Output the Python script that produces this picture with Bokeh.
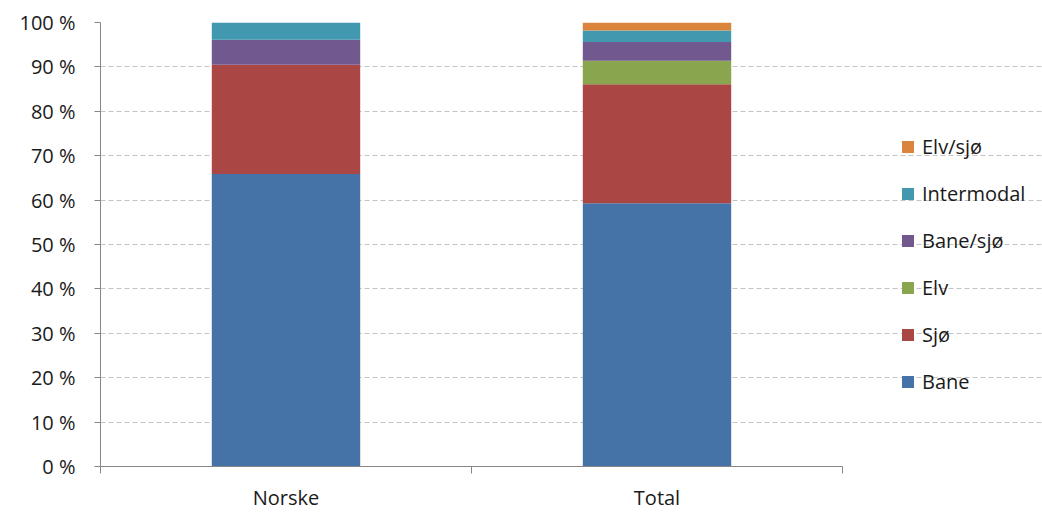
from bokeh.plotting import figure
from bokeh.models import ColumnDataSource, FixedTicker, Legend, LegendItem, Range1d
from bokeh.embed import file_html
from bokeh.resources import INLINE

categories = ["Norske", "Total"]
series_names = ["Bane", "Sjø", "Elv", "Bane/sjø", "Intermodal", "Elv/sjø"]
bane = [65.9, 59.3]
sjo = [24.6, 26.8]
elv = [0.0, 5.3]
bane_sjo = [5.6, 4.2]
intermodal = [3.9, 2.6]
elv_sjo = [0.0, 1.8]
colors = ["#4572A7", "#AA4643", "#89A54E", "#71588F", "#4198AF", "#DB843D"]
y_ticks = [0, 10, 20, 30, 40, 50, 60, 70, 80, 90, 100]
y_tick_labels = ["0 %", "10 %", "20 %", "30 %", "40 %", "50 %", "60 %", "70 %", "80 %", "90 %", "100 %"]

FONT = "Open Sans"
TEXT = "#1a1a1a"
FS = "20px"

# layout: plot area 742 px wide, frame extended to the right edge to host the legend
PLOT_W = 742
FRAME_W = 942
n = len(categories)

keys = ["s%d" % i for i in range(len(series_names))]
data = {"x": [i + 0.5 for i in range(n)]}
for k, vals in zip(keys, [bane, sjo, elv, bane_sjo, intermodal, elv_sjo]):
    data[k] = vals
source = ColumnDataSource(data)

p = figure(width=1042, height=513, output_backend="svg", toolbar_location=None,
           x_range=Range1d(0, n * FRAME_W / PLOT_W), y_range=Range1d(0, 100),
           min_border_left=100, min_border_right=0, min_border_top=22, min_border_bottom=47)
p.outline_line_color = None
p.background_fill_color = "white"
p.border_fill_color = "white"

renderers = p.vbar_stack(keys, x="x", width=0.4, source=source, color=colors, line_color=None)

p.xgrid.visible = False
p.ygrid.grid_line_color = "#C4C4C4"
p.ygrid.grid_line_dash = "5 3"
p.ygrid.grid_line_width = 1
p.ygrid.ticker = FixedTicker(ticks=y_ticks)
p.ygrid.bounds = (0, n)

p.yaxis.ticker = FixedTicker(ticks=y_ticks)
p.yaxis.major_label_overrides = {t: l for t, l in zip(y_ticks, y_tick_labels)}
p.yaxis.axis_line_color = "#868686"
p.yaxis.major_tick_line_color = "#868686"
p.yaxis.major_tick_out = 6
p.yaxis.major_tick_in = 0
p.yaxis.minor_tick_line_color = None
p.yaxis.major_label_standoff = 19
p.yaxis.major_label_text_font = FONT
p.yaxis.major_label_text_font_size = FS
p.yaxis.major_label_text_color = TEXT

p.xaxis.ticker = FixedTicker(ticks=[i + 0.5 for i in range(n)],
                             minor_ticks=list(range(n + 1)))
p.xaxis.bounds = (0, n)
p.xaxis.major_label_overrides = {i + 0.5: c for i, c in enumerate(categories)}
p.xaxis.axis_line_color = "#868686"
p.xaxis.major_tick_line_color = None
p.xaxis.major_tick_out = 0
p.xaxis.major_tick_in = 0
p.xaxis.minor_tick_line_color = "#868686"
p.xaxis.minor_tick_out = 7
p.xaxis.minor_tick_in = 0
p.xaxis.major_label_standoff = 10
p.xaxis.major_label_text_font = FONT
p.xaxis.major_label_text_font_size = FS
p.xaxis.major_label_text_color = TEXT

items = [LegendItem(label=nm, renderers=[r]) for nm, r in zip(series_names, renderers)]
legend = Legend(items=list(reversed(items)), location=(800, 71),
                label_text_font=FONT, label_text_font_size=FS, label_text_color=TEXT,
                glyph_width=15, glyph_height=15, label_height=24, spacing=20,
                label_standoff=7, padding=0, margin=0,
                border_line_color=None, background_fill_alpha=0)
p.add_layout(legend, "center")

open("out.html", "w").write(file_html(p, INLINE))
